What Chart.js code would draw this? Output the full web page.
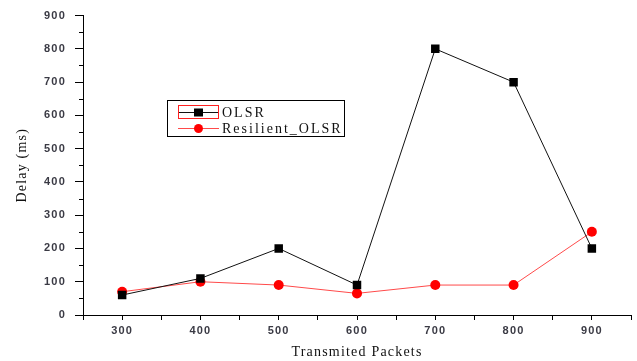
<!DOCTYPE html>
<html>
<head>
<meta charset="utf-8">
<script src="https://cdn.jsdelivr.net/npm/chart.js@4"></script>
<style>
  html, body { margin: 0; padding: 0; background: #fff; }
  #wrap { width: 637px; height: 361px; }
</style>
</head>
<body>
<div id="wrap"><canvas id="chart" width="637" height="361"></canvas></div>
<script>
const packets = [300, 400, 500, 600, 700, 800, 900];
const olsrDelay = [60, 110, 200, 90, 800, 700, 200];
const resilientDelay = [70, 100, 90, 65, 90, 90, 250];
const seriesNames = ['OLSR', 'Resilient_OLSR'];

function points(vals) {
    return packets.map((p, i) => ({ x: p, y: vals[i] }));
}

// canvas letter spacing, the original text is spread out
const spacing = {
    id: 'spacing',
    beforeUpdate(chart) { chart.ctx.letterSpacing = '1.2px'; },
    beforeDraw(chart) { chart.ctx.letterSpacing = '1.2px'; }
};

// short minor ticks on the y axis
const minorTicks = {
    id: 'minorTicks',
    afterDraw(chart) {
        const y = chart.scales.y;
        const ctx = chart.ctx;
        ctx.save();
        ctx.strokeStyle = '#000';
        ctx.lineWidth = 1;
        y.ticks.forEach(t => {
            if (t.value % 100 !== 0) {
                const py = Math.round(y.getPixelForValue(t.value)) + 0.5;
                ctx.beginPath();
                ctx.moveTo(y.right - 4, py);
                ctx.lineTo(y.right, py);
                ctx.stroke();
            }
        });
        ctx.restore();
    }
};

// legend box drawn like the original
const boxLegend = {
    id: 'boxLegend',
    afterDraw(chart) {
        const ctx = chart.ctx;
        const ds = chart.data.datasets;
        ctx.save();
        ctx.letterSpacing = '2px';
        ctx.strokeStyle = '#000';
        ctx.lineWidth = 1;
        ctx.strokeRect(167.5, 100.5, 177, 36);
        const rows = [112, 128];
        ds.forEach((d, i) => {
            const yy = rows[i] + 0.5;
            ctx.strokeStyle = d.borderColor;
            ctx.lineWidth = 1;
            ctx.beginPath();
            ctx.moveTo(178, yy);
            ctx.lineTo(219, yy);
            ctx.stroke();
            ctx.fillStyle = d.pointBackgroundColor;
            if (d.pointStyle === 'rect') {
                ctx.fillRect(194, yy - 4, 9, 8);
            } else {
                ctx.beginPath();
                ctx.arc(198.5, yy, 4.5, 0, Math.PI * 2);
                ctx.fill();
            }
            ctx.fillStyle = '#111';
            ctx.font = '14px "Liberation Serif"';
            ctx.textBaseline = 'middle';
            ctx.fillText(d.label, 222, yy + 1);
        });
        ctx.strokeStyle = '#ff2020';
        ctx.strokeRect(178.5, 105.5, 40, 13);
        ctx.restore();
    }
};

const ctx = document.getElementById('chart').getContext('2d');
const myChart = new Chart(ctx, {
    type: 'line',
    data: {
        datasets: [{
            label: seriesNames[0],
            data: points(olsrDelay),
            borderColor: '#111',
            borderWidth: 1,
            pointStyle: 'rect',
            pointRadius: 6,
            pointBackgroundColor: '#000',
            pointBorderColor: '#000',
            pointBorderWidth: 0
        }, {
            label: seriesNames[1],
            data: points(resilientDelay),
            borderColor: '#ff4a4a',
            borderWidth: 1,
            pointStyle: 'circle',
            pointRadius: 5,
            pointBackgroundColor: '#ff0000',
            pointBorderColor: '#ff0000',
            pointBorderWidth: 0
        }]
    },
    options: {
        responsive: false,
        animation: false,
        layout: { padding: { top: 14, right: 5, left: 0, bottom: 0 } },
        plugins: { legend: { display: false }, tooltip: { enabled: false } },
        scales: {
            x: {
                type: 'linear',
                min: 250,
                max: 950,
                afterFit(s) { s.height = 46; },
                grid: { drawOnChartArea: false, tickLength: 5, tickColor: '#000', color: '#000' },
                border: { color: '#000', width: 1 },
                ticks: {
                    stepSize: 50,
                    autoSkip: false,
                    maxRotation: 0,
                    padding: 4,
                    color: '#3a3a44',
                    font: { family: '"Liberation Sans"', size: 11, weight: 'bold' },
                    callback: v => (v % 100 === 0 && v >= 300 && v <= 900) ? String(v) : ''
                },
                title: {
                    display: true,
                    text: 'Transmited Packets',
                    color: '#111',
                    padding: { top: 4, bottom: 0 },
                    font: { family: '"Liberation Serif"', size: 14 }
                }
            },
            y: {
                min: 0,
                max: 900,
                afterFit(s) { s.width = 83; },
                grid: {
                    drawOnChartArea: false,
                    tickLength: 8,
                    tickColor: c => (c.tick && c.tick.value % 100 === 0) ? '#000' : 'rgba(0,0,0,0)'
                },
                border: { color: '#000', width: 1 },
                ticks: {
                    stepSize: 50,
                    autoSkip: false,
                    padding: 9,
                    color: '#3a3a44',
                    font: { family: '"Liberation Sans"', size: 11, weight: 'bold' },
                    callback: v => (v % 100 === 0) ? String(v) : ''
                },
                title: {
                    display: true,
                    text: 'Delay (ms)',
                    color: '#111',
                    padding: { top: 14, bottom: 0 },
                    font: { family: '"Liberation Serif"', size: 14 }
                }
            }
        }
    },
    plugins: [spacing, minorTicks, boxLegend]
});
</script>
</body>
</html>
